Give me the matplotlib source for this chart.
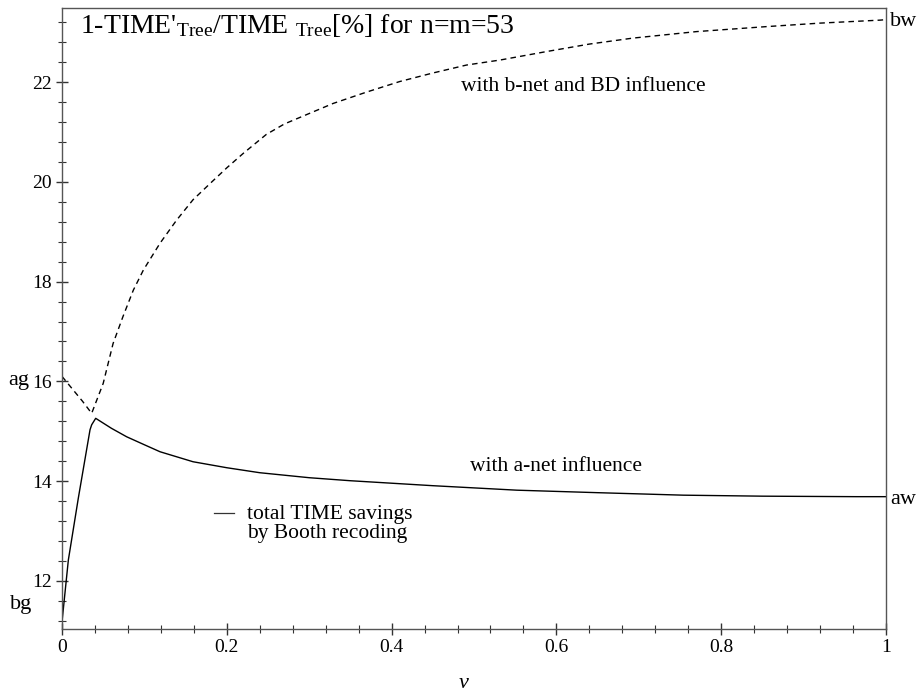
import numpy as np
import matplotlib.pyplot as plt
from matplotlib import rcParams
from matplotlib.ticker import MultipleLocator

rcParams['font.family'] = 'Liberation Serif'
rcParams['mathtext.fontset'] = 'custom'
rcParams['mathtext.rm'] = 'Liberation Serif'
rcParams['mathtext.it'] = 'Liberation Serif:italic'
rcParams['font.size'] = 14

# a-net influence (solid)
v_a = [0.0, 0.0077, 0.0198, 0.034, 0.036, 0.0409, 0.06, 0.0785, 0.10, 0.119,
       0.159, 0.20, 0.240, 0.30, 0.3495, 0.45, 0.552, 0.65, 0.754, 0.85,
       0.964, 1.0]
t_a = [11.18, 12.42, 13.66, 15.03, 15.13, 15.26, 15.06, 14.89, 14.73, 14.59,
       14.39, 14.27, 14.17, 14.07, 14.01, 13.91, 13.82, 13.77, 13.72, 13.70,
       13.69, 13.69]

# b-net and BD influence (dashed)
v_b = [0.0, 0.012, 0.025, 0.036, 0.050, 0.062, 0.074, 0.0866, 0.0987, 0.119,
       0.139, 0.159, 0.180, 0.20, 0.220, 0.248, 0.27, 0.329, 0.37, 0.410,
       0.45, 0.491, 0.5316, 0.588, 0.64, 0.693, 0.77, 0.855, 0.92, 0.993, 1.0]
t_b = [16.10, 15.86, 15.60, 15.36, 15.96, 16.76, 17.30, 17.83, 18.23, 18.77,
       19.23, 19.64, 19.97, 20.28, 20.57, 20.95, 21.16, 21.57, 21.80, 22.01,
       22.18, 22.34, 22.44, 22.61, 22.76, 22.88, 23.01, 23.11, 23.18, 23.24,
       23.25]

W, H = 917, 696
fig = plt.figure(figsize=(W / 100, H / 100), dpi=100)
ax = fig.add_axes([62 / W, 1 - 629 / H, (886 - 62) / W, (629 - 8) / H])

ax.plot(v_a, t_a, '-', color='black', linewidth=1.0)
ax.plot(v_b, t_b, color='black', linewidth=1.0, dashes=(4, 3))

ax.set_xlim(0, 1)
ax.set_ylim(12 - 48 / 49.9, 22 + 74 / 49.9)
ax.xaxis.set_minor_locator(MultipleLocator(0.04))
ax.yaxis.set_major_locator(MultipleLocator(2))
ax.yaxis.set_minor_locator(MultipleLocator(0.4))
ax.set_xticks([0, 0.2, 0.4, 0.6, 0.8, 1])
ax.set_xticklabels(['0', '0.2', '0.4', '0.6', '0.8', '1'])

for s in ax.spines.values():
    s.set_color('#555555')
    s.set_linewidth(1.0)
ax.tick_params(which='both', direction='inout', color='#333333', top=False, right=False)
ax.tick_params(which='major', length=9, width=1.0, pad=3, labelsize=14)
ax.tick_params(which='minor', length=6, width=0.8)

ax.text(18 / 824, (629 - 12) / 621,
        r"1-TIME'$_{\mathrm{Tree}}$/TIME $_{\mathrm{Tree}}$[%] for n=m=53",
        transform=ax.transAxes, fontsize=20, va='top', ha='left')
ax.text(0.633, 21.90, 'with b-net and BD influence', ha='center', va='center', fontsize=15.5)
ax.text(0.600, 14.30, 'with a-net influence', ha='center', va='center', fontsize=15.5)
ax.plot([0.185, 0.209], [13.36, 13.36], color='#333333', linewidth=0.9)
ax.text(0.2245, 13.14, 'total TIME savings\nby Booth recoding', ha='left', va='center',
        fontsize=15.5, linespacing=0.95)

fig.text(8 / W, 1 - 381 / H, 'ag', ha='left', va='center', fontsize=16)
fig.text(10 / W, 1 - 604 / H, 'bg', ha='left', va='center', fontsize=16)
fig.text(890 / W, 1 - 22 / H, 'bw', ha='left', va='center', fontsize=16)
fig.text(890 / W, 1 - 499 / H, 'aw', ha='left', va='center', fontsize=16)
fig.text(464 / W, 1 - 684 / H, r'$\mathit{v}$', ha='center', va='center', fontsize=16)

fig.savefig('out.png', dpi=100)
